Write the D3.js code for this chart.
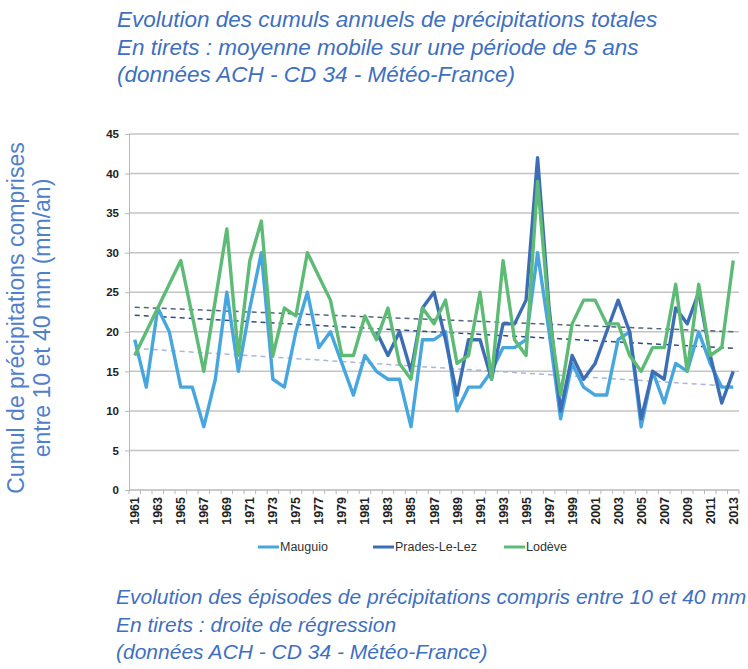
<!DOCTYPE html>
<html>
<head>
<meta charset="utf-8">
<script src="https://cdn.jsdelivr.net/npm/d3@7"></script>
<style>
  body { margin: 0; background: #fff; }
  svg { display: block; }
  .title { font-family: "Liberation Sans", Arial, sans-serif; font-style: italic; fill: #3f6fbf; }
  .axis-y text, .axis-x text { font-family: "Liberation Sans", Arial, sans-serif; font-weight: bold; fill: #222; }
  .legend text { font-family: "Liberation Sans Narrow", "Liberation Sans", Arial, sans-serif; fill: #333; }
</style>
</head>
<body>
<svg id="chart"></svg>
<script>
// données
const years = d3.range(1961, 2014)
const mauguio = [19, 13, 23, 20, 13, 13, 8, 14, 25, 15, 23, 30, 14, 13, 20, 25, 18, 20, 16, 12,
  17, 15, 14, 14, 8, 19, 19, 20, 10, 13, 13, 15, 18, 18, 19, 30, 20, 9, 16, 13,
  12, 12, 19, 20, 8, 15, 11, 16, 15, 20, 16, 13, 13]
const prades = [null, null, null, null, null, null, null, null, null, null, null, null, null, null, null, null, null, null, null, null,
  null, 20, 17, 20, 15, 23, 25, 19, 12, 19, 19, 14, 21, 21, 24, 42, 23, 10, 17, 14,
  16, 20, 24, 20, 9, 15, 14, 23, 21, 25, 17, 11, 15]
const lodeve = [17, 20, 23, 26, 29, 22, 15, 24, 33, 17, 29, 34, 17, 23, 22, 30, 27, 24, 17, 17,
  22, 19, 23, 16, 14, 23, 21, 24, 16, 17, 25, 14, 29, 19, 17, 39, 22, 12, 21, 24,
  24, 21, 21, 17, 15, 18, 18, 26, 15, 26, 17, 18, 29]
const seriesNames = ['Mauguio', 'Prades-Le-Lez', 'Lodève']
// droites de régression (valeurs lues en 1961 et 2013)
const trendStart = [17.9, 22.1, 23.1]
const trendEnd = [13.1, 17.9, 20.0]
const yTicks = [0, 5, 10, 15, 20, 25, 30, 35, 40, 45]
const xLabels = years.filter((d, i) => i % 2 === 0)

const titleTop = ['Evolution des cumuls annuels de précipitations totales',
  'En tirets : moyenne mobile sur une période de 5 ans',
  '(données ACH - CD 34 - Météo-France)']
const titleBottom = ['Evolution des épisodes de précipitations compris entre 10 et 40 mm',
  'En tirets : droite de régression',
  '(données ACH - CD 34 - Météo-France)']

const width = 748
const height = 669
const colors = ['#48a6de', '#3c6db5', '#5dbb76']
const trendColors = ['#aab6da', '#2f4a86', '#56647e']

const svg = d3.select('#chart')
  .attr('width', width)
  .attr('height', height)

const plot = { left: 129, right: 739, top: 134, bottom: 490 }

const x = d3.scalePoint()
  .domain(years)
  .range([plot.left, plot.right])
  .padding(0.5)

const y = d3.scaleLinear()
  .domain([0, 45])
  .range([plot.bottom, plot.top])

// titres
svg.append('g').selectAll('text')
  .data(titleTop)
  .enter().append('text')
  .attr('class', 'title')
  .attr('x', 117)
  .attr('y', (d, i) => 27 + i * 27.5)
  .style('font-size', '22.5px')
  .text(d => d)

svg.append('g').selectAll('text')
  .data(titleBottom)
  .enter().append('text')
  .attr('class', 'title')
  .attr('x', 116)
  .attr('y', (d, i) => 604 + i * 27.5)
  .style('font-size', '21px')
  .text(d => d)

// grille
svg.append('g')
  .selectAll('line')
  .data(yTicks.filter(d => d > 0))
  .enter().append('line')
  .attr('x1', plot.left)
  .attr('x2', plot.right)
  .attr('y1', d => y(d))
  .attr('y2', d => y(d))
  .attr('stroke', '#c4c4c4')
  .attr('stroke-width', 1.5)

// axe y
const yAxis = svg.append('g')
  .attr('class', 'axis-y')
  .attr('transform', `translate(${plot.left},0)`)
  .call(d3.axisLeft(y).tickValues(yTicks).tickSize(4).tickPadding(6))
yAxis.select('.domain').attr('stroke', '#b8b8b8')
yAxis.selectAll('.tick line').attr('stroke', '#b8b8b8')
yAxis.selectAll('text').style('font-size', '11.5px')

// axe x
const step = x.step()
const xAxis = svg.append('g')
  .attr('class', 'axis-x')
xAxis.append('line')
  .attr('x1', plot.left)
  .attr('x2', plot.right)
  .attr('y1', plot.bottom)
  .attr('y2', plot.bottom)
  .attr('stroke', '#b8b8b8')
  .attr('stroke-width', 1.5)
xAxis.selectAll('.xtick')
  .data(years.concat([2014]))
  .enter().append('line')
  .attr('class', 'xtick')
  .attr('x1', d => plot.left + (d - 1961) * step)
  .attr('x2', d => plot.left + (d - 1961) * step)
  .attr('y1', plot.bottom)
  .attr('y2', plot.bottom + 4)
  .attr('stroke', '#b8b8b8')
xAxis.selectAll('text')
  .data(xLabels)
  .enter().append('text')
  .attr('transform', d => `translate(${x(d) + 4.5},${plot.bottom + 7}) rotate(-90)`)
  .attr('text-anchor', 'end')
  .style('font-size', '12.5px')
  .text(d => d)

// titre de l'axe y
svg.append('text')
  .attr('transform', 'translate(24,318) rotate(-90)')
  .attr('text-anchor', 'middle')
  .style('font-family', '"Liberation Sans", Arial, sans-serif')
  .style('font-size', '23px')
  .style('fill', '#5080cc')
  .selectAll('tspan')
  .data(['Cumul de précipitations comprises', 'entre 10 et 40 mm (mm/an)'])
  .enter().append('tspan')
  .attr('x', 0)
  .attr('dy', (d, i) => i === 0 ? 0 : 26)
  .text(d => d)

// droites de régression
svg.append('g')
  .selectAll('line')
  .data(trendStart)
  .enter().append('line')
  .attr('x1', x(years[0]))
  .attr('x2', x(years[years.length - 1]))
  .attr('y1', d => y(d))
  .attr('y2', (d, i) => y(trendEnd[i]))
  .attr('stroke', (d, i) => trendColors[i])
  .attr('stroke-width', 1.5)
  .attr('stroke-dasharray', '5,4')

// séries
const line = d3.line()
  .defined(d => d.v !== null)
  .x(d => x(d.year))
  .y(d => y(d.v))

const series = [mauguio, prades, lodeve].map(values => values.map((v, i) => ({ year: years[i], v })))

svg.append('g')
  .selectAll('path')
  .data(series)
  .enter().append('path')
  .attr('d', line)
  .attr('fill', 'none')
  .attr('stroke', (d, i) => colors[i])
  .attr('stroke-width', 3.4)
  .attr('stroke-linejoin', 'round')

// légende
const legendX = [258, 373, 504]
const legend = svg.append('g')
  .attr('class', 'legend')
  .selectAll('g')
  .data(seriesNames)
  .enter().append('g')
  .attr('transform', (d, i) => `translate(${legendX[i]},547)`)
legend.append('line')
  .attr('x1', 0)
  .attr('x2', 21)
  .attr('stroke', (d, i) => colors[i])
  .attr('stroke-width', 3)
legend.append('text')
  .attr('x', 22)
  .attr('dy', '.35em')
  .style('font-size', '12.5px')
  .text(d => d)
</script>
</body>
</html>
